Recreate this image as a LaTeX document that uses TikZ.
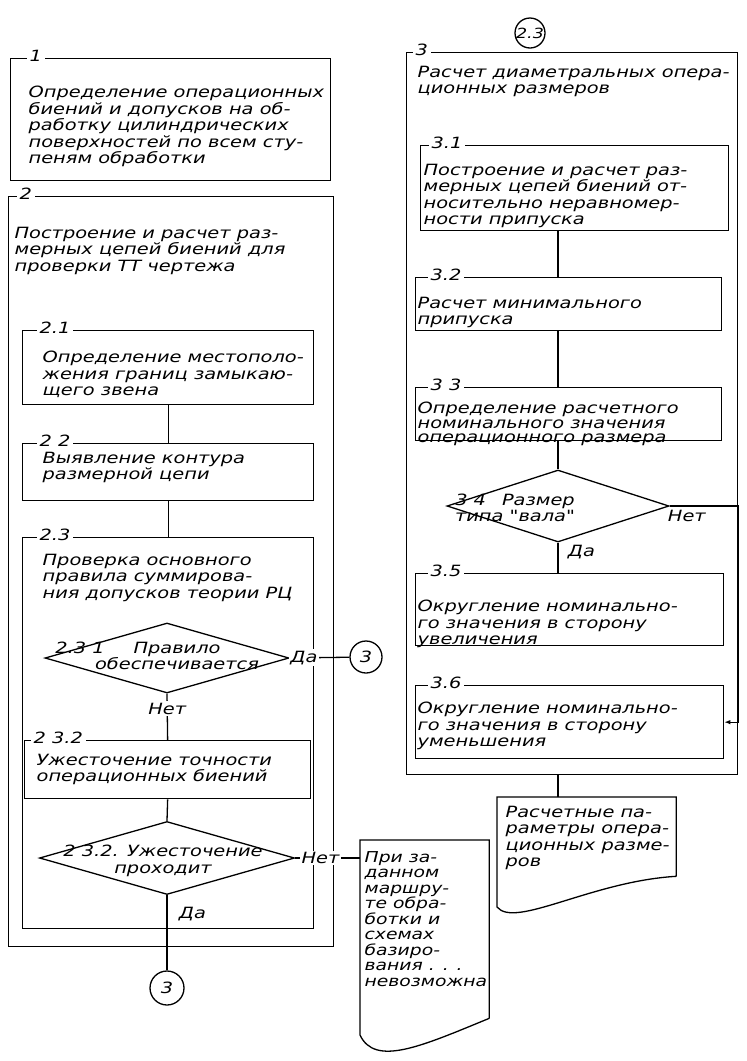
\documentclass[tikz,border=0pt]{standalone}
\usepackage{fontspec}
\setmainfont{DejaVu Sans}[FakeStretch=1.25, Ligatures=TeXOff, ItalicFont={* Oblique}]
\usetikzlibrary{shapes,arrows,positioning,calc,arrows.meta}

\begin{document}
\begin{tikzpicture}[x=1pt, y=-1pt, line width=1.3pt, >={Latex[length=6pt,width=4.5pt]},
    font=\fontsize{15.5}{16.5}\selectfont\itshape,
    blk/.style={draw, rectangle, anchor=north west, inner sep=0pt},
    num/.style={fill=white, inner xsep=3pt, inner ysep=0.5pt, yshift=2pt},
    txt/.style={align=left, inner sep=0pt, anchor=north west},
    dia/.style={draw, diamond, inner sep=0pt},
    lab/.style={fill=white, inner sep=1.5pt},
    circ/.style={draw, circle, inner sep=0pt},
    docbox/.style={rectangle, anchor=north west, inner sep=0pt}]

    \useasboundingbox (0,0) rectangle (747,1061);

    % Block 1
    \node[blk, minimum width=320pt, minimum height=122pt] (b1) at (10,58) {};
    \node[num, right=16pt of b1.north west] (n1) {1};
    \node[txt, below right=27.5pt and 18pt of b1.north west] (t1) {Определение операционных\\биений и допусков на об-\\работку цилиндрических\\поверхностей по всем сту-\\пеням обработки};

    % Block 2
    \node[blk, minimum width=325pt, minimum height=750pt] (b2) at (8,196) {};
    \node[num, right=8pt of b2.north west] (n2) {2};
    \node[txt, below right=30.5pt and 6pt of b2.north west] (t2) {Построение и расчет раз-\\мерных цепей биений для\\проверки ТТ чертежа};

    % Block 2.1
    \node[blk, minimum width=291pt, minimum height=74pt] (b21) at (22,330) {};
    \node[num, right=14pt of b21.north west] (n21) {2.1};
    \node[txt, below right=20.5pt and 20pt of b21.north west] (t21) {Определение местополо-\\жения границ замыкаю-\\щего звена};

    % Block 2.2
    \node[blk, minimum width=291pt, minimum height=57pt] (b22) at (22,443) {};
    \node[num, right=14pt of b22.north west] (n22) {2 2};
    \node[txt, below right=8.5pt and 20pt of b22.north west] (t22) {Выявление контура\\размерной цепи};

    % Block 2.3
    \node[blk, minimum width=291pt, minimum height=391pt] (b23) at (22,537) {};
    \node[num, right=14pt of b23.north west] (n23) {2.3};
    \node[txt, below right=16.5pt and 20pt of b23.north west] (t23) {Проверка основного\\правила суммирова-\\ния допусков теории РЦ};

    % Decision 2.3.1
    \node[dia, minimum width=244pt, minimum height=70pt] (d231) at (167,658) {};
    \node[inner sep=0pt] (n231) at (80,648) {2.3 1};
    \node[align=center, inner sep=0pt] (q231) at (177,656) {Правило\\обеспечивается};
    \node[circ, minimum size=32pt] (c3a) at (366,657) {3};

    % Block 2.3.2
    \node[blk, minimum width=286pt, minimum height=58pt] (b232) at (24,740) {};
    \node[num, right=6pt of b232.north west] (n232) {2 3.2};
    \node[txt, below right=13.5pt and 12pt of b232.north west] (t232) {Ужесточение точности\\операционных биений};

    % Decision 2.3.2
    \node[dia, minimum width=255pt, minimum height=73pt] (d232) at (167,858) {};
    \node[align=center, inner sep=0pt] (q232) at (163,861) {2 3.2. Ужесточение\\проходит};
    \node[circ, minimum size=34pt] (c3b) at (167,988) {3};

    % Block 3
    \node[circ, minimum size=30pt, font=\fontsize{14}{14}\selectfont\itshape] (c23) at (530,33) {2.3};
    \node[blk, minimum width=331pt, minimum height=722pt] (b3) at (406,52) {};
    \node[num, right=6pt of b3.north west] (n3) {3};
    \node[txt, below right=13.5pt and 11pt of b3.north west] (t3) {Расчет диаметральных опера-\\ционных размеров};
    \coordinate (sp) at (558,0);

    % Block 3.1
    \node[blk, minimum width=308pt, minimum height=85pt] (b31) at (420,145) {};
    \node[num, right=8pt of b31.north west] (n31) {3.1};
    \node[txt, below right=18.5pt and 3pt of b31.north west] (t31) {Построение и расчет раз-\\мерных цепей биений от-\\носительно неравномер-\\ности припуска};

    % Block 3.2
    \node[blk, minimum width=306pt, minimum height=53pt] (b32) at (415,277) {};
    \node[num, right=12pt of b32.north west] (n32) {3.2};
    \node[txt, below right=19.5pt and 2pt of b32.north west] (t32) {Расчет минимального\\припуска};

    % Block 3.3
    \node[blk, minimum width=306pt, minimum height=53pt] (b33) at (415,387) {};
    \node[num, right=12pt of b33.north west] (n33) {3 3};
    \node[txt, below right=14.5pt and 2pt of b33.north west, font=\fontsize{15.5}{14.5}\selectfont\itshape] (t33) {Определение расчетного\\номинального значения\\операционного размера};

    % Decision 3.4
    \node[dia, minimum width=222pt, minimum height=72pt] (d34) at (558,506) {};
    \node[align=center, inner sep=0pt] (q34) at (515,508) {3 4\hspace{16pt}Размер\\типа "вала"};

    % Block 3.5
    \node[blk, minimum width=308pt, minimum height=72pt] (b35) at (415,573) {};
    \node[num, right=12pt of b35.north west] (n35) {3.5};
    \node[txt, below right=26.5pt and 2pt of b35.north west] (t35) {Округление номинально-\\го значения в сторону\\увеличения};

    % Block 3.6
    \node[blk, minimum width=308pt, minimum height=73pt] (b36) at (415,685) {};
    \node[num, right=12pt of b36.north west] (n36) {3.6};
    \node[txt, below right=16.5pt and 2pt of b36.north west] (t36) {Округление номинально-\\го значения в сторону\\уменьшения};

    % Documents
    \node[docbox, minimum width=178pt, minimum height=78pt] (res) at (497,797) {};
    \draw (res.south east) -- (res.north east) -- (res.north west) -- ++(0,110) .. controls +(18,22) and +(-85,5) .. (res.south east);
    \node[txt, below right=8.5pt and 8pt of res.north west] (tres) {Расчетные па-\\раметры опера-\\ционных разме-\\ров};

    \node[docbox, minimum width=128pt, minimum height=177pt] (imp) at (360,840) {};
    \draw (imp.south east) -- (imp.north east) -- (imp.north west) -- ++(0,195) .. controls +(15,32) and +(-68,28) .. (imp.south east);
    \node[txt, below right=10.5pt and 4pt of imp.north west, font=\fontsize{15}{15.5}\selectfont\itshape] (timp) {При за-\\данном\\маршру-\\те обра-\\ботки и\\схемах\\базиро-\\вания . . .\\невозможна};

    % Connectors
    \draw (b21.south) -- (b22.north);
    \draw (b22.south) -- (b23.north);
    \draw (d231.east) -- node[lab, pos=0.24] {Да} (c3a);
    \draw (d231.south) -- node[lab, pos=0.32] {Нет} (b232.north);
    \draw (b232.south) -- (d232.north);
    \draw (d232.east) -- node[lab, pos=0.39] {Нет} (d232.east -| imp.west);
    \draw (d232.south) -- node[right=8pt, pos=0.25] {Да} (c3b);

    \draw (sp |- b31.south) -- (sp |- b32.north);
    \draw (sp |- b32.south) -- (sp |- b33.north);
    \draw (sp |- b33.south) -- (d34.north);
    \draw (d34.south) -- node[right=6pt, pos=0.3] {Да} (d34.south |- b35.north);
    \draw[->] (d34.east) -- node[below, pos=0.25] {Нет} (d34.east -| b3.east) |- (b36.east);
    \draw (sp |- b3.south) -- (sp |- res.north);
\end{tikzpicture}
\end{document}
